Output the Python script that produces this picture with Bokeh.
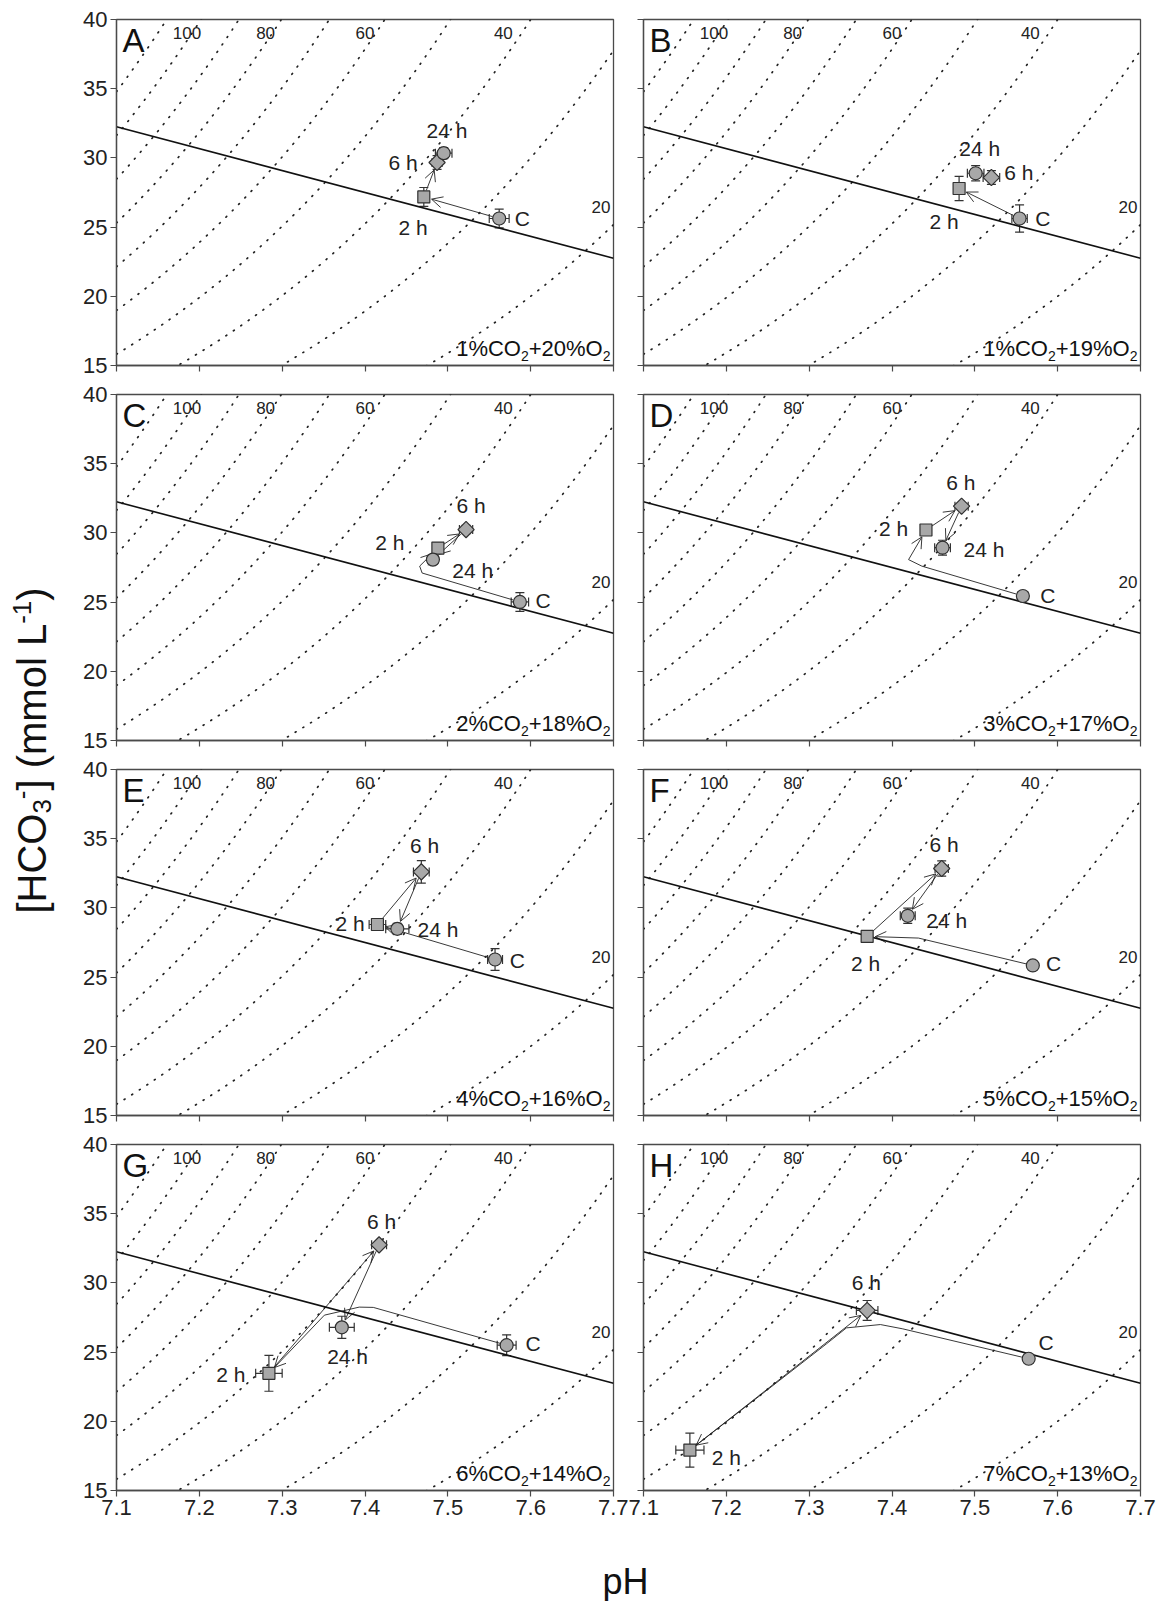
import numpy as np
from bokeh.plotting import figure
from bokeh.models import (ColumnDataSource, Whisker, Arrow, OpenHead, TeeHead, Label,
                          FixedTicker, Range1d, CustomJSTickFormatter)
from bokeh.layouts import row, column
from bokeh.embed import file_html
from bokeh.resources import INLINE
from bokeh.core.properties import value

FONT = "Liberation Sans"
INK = "#222222"
FRAME = "#4a4a4a"
FILL = "#a8a8a8"

# ---------------- data ----------------
x_ticks = [7.1, 7.2, 7.3, 7.4, 7.5, 7.6, 7.7]
y_ticks = [15, 20, 25, 30, 35, 40]

isopleth_pco2 = [20, 30, 40, 50, 60, 70, 80, 90, 100, 110]
isopleth_pk_apparent = 7.6
isopleth_label_text = ["100", "80", "60", "40", "20"]
isopleth_label_ph = [7.185, 7.280, 7.400, 7.567, 7.685]
isopleth_label_hco3 = [39.05, 39.05, 39.05, 39.05, 26.47]

buffer_line_ph = [7.1, 7.7]
buffer_line_hco3 = [32.25, 22.75]

x_title = "pH"
y_title = "[HCO₃⁻] (mmol L⁻¹)"

panel_letters = ["A", "B", "C", "D", "E", "F", "G", "H"]
panel_gas = ["1%CO₂+20%O₂", "1%CO₂+19%O₂", "2%CO₂+18%O₂", "3%CO₂+17%O₂",
             "4%CO₂+16%O₂", "5%CO₂+15%O₂", "6%CO₂+14%O₂", "7%CO₂+13%O₂"]

time_labels = ["C", "2 h", "6 h", "24 h"]
time_markers = ["circle", "square", "square", "circle"]
time_angles = [0.0, 0.0, np.pi / 4, 0.0]
time_sizes = [13, 12, 11.5, 13]

A_ph = [7.562, 7.471, 7.487, 7.495]
A_hco3 = [25.62, 27.18, 29.67, 30.34]
A_ph_err = [0.012, 0.004, 0.006, 0.010]
A_hco3_err = [0.68, 0.68, 0.50, 0.40]
A_lab_ph = [7.590, 7.458, 7.446, 7.499]
A_lab_hco3 = [25.62, 24.95, 29.69, 31.97]
A_routes = [(0, 1, [], []), (1, 2, [], []), (2, 3, [], [])]

B_ph = [7.554, 7.481, 7.520, 7.501]
B_hco3 = [25.62, 27.79, 28.58, 28.89]
B_ph_err = [0.0093, 0.004, 0.010, 0.010]
B_hco3_err = [0.99, 0.87, 0.50, 0.55]
B_lab_ph = [7.582, 7.463, 7.553, 7.506]
B_lab_hco3 = [25.60, 25.40, 28.94, 30.70]
B_routes = [(0, 1, [], [])]

C_ph = [7.587, 7.488, 7.522, 7.482]
C_hco3 = [25.01, 28.90, 30.24, 28.07]
C_ph_err = [0.0105, 0.005, 0.008, 0.006]
C_hco3_err = [0.68, 0.40, 0.30, 0.30]
C_lab_ph = [7.615, 7.430, 7.528, 7.530]
C_lab_hco3 = [25.10, 29.28, 31.96, 27.30]
C_routes = [(0, 1, [7.469, 7.466], [27.10, 27.60]), (1, 2, [], []), (2, 3, [], [])]

D_ph = [7.558, 7.441, 7.484, 7.461]
D_hco3 = [25.44, 30.21, 31.93, 28.93]
D_ph_err = [0.006, 0.004, 0.008, 0.0095]
D_hco3_err = [0.20, 0.20, 0.25, 0.54]
D_lab_ph = [7.588, 7.402, 7.483, 7.511]
D_lab_hco3 = [25.51, 30.29, 33.63, 28.78]
D_routes = [(0, 1, [7.436, 7.420], [27.60, 28.07]), (1, 2, [], []), (2, 3, [], [])]

E_ph = [7.557, 7.415, 7.468, 7.439]
E_hco3 = [26.27, 28.80, 32.60, 28.49]
E_ph_err = [0.009, 0.010, 0.0095, 0.014]
E_hco3_err = [0.79, 0.20, 0.81, 0.40]
E_lab_ph = [7.584, 7.382, 7.472, 7.488]
E_lab_hco3 = [26.20, 28.87, 34.50, 28.44]
E_routes = [(0, 1, [], []), (1, 2, [], []), (2, 3, [], [])]

F_ph = [7.570, 7.370, 7.460, 7.419]
F_hco3 = [25.84, 27.94, 32.85, 29.43]
F_ph_err = [0.005, 0.006, 0.008, 0.009]
F_hco3_err = [0.20, 0.40, 0.55, 0.55]
F_lab_ph = [7.595, 7.368, 7.463, 7.466]
F_lab_hco3 = [25.96, 25.96, 34.57, 29.07]
F_routes = [(0, 1, [7.432], [27.82]), (1, 2, [], []), (2, 3, [], [])]

G_ph = [7.571, 7.284, 7.417, 7.372]
G_hco3 = [25.50, 23.47, 32.75, 26.79]
G_ph_err = [0.0114, 0.016, 0.009, 0.015]
G_hco3_err = [0.75, 1.30, 0.20, 0.80]
G_lab_ph = [7.603, 7.238, 7.420, 7.379]
G_lab_hco3 = [25.60, 23.37, 34.45, 24.69]
G_routes = [(0, 1, [7.410, 7.393, 7.351], [28.23, 28.25, 27.67]), (1, 2, [], []), (2, 3, [], [])]

H_ph = [7.565, 7.156, 7.370]
H_hco3 = [24.52, 17.92, 28.01]
H_ph_err = [0.005, 0.017, 0.013]
H_hco3_err = [0.20, 1.23, 0.72]
H_lab_ph = [7.586, 7.200, 7.369]
H_lab_hco3 = [25.72, 17.37, 30.05]
H_routes = [(0, 1, [7.413, 7.386, 7.345, 7.321], [26.68, 26.99, 26.75, 25.60]), (1, 2, [], [])]

panels = [
    (A_ph, A_hco3, A_ph_err, A_hco3_err, A_lab_ph, A_lab_hco3, A_routes),
    (B_ph, B_hco3, B_ph_err, B_hco3_err, B_lab_ph, B_lab_hco3, B_routes),
    (C_ph, C_hco3, C_ph_err, C_hco3_err, C_lab_ph, C_lab_hco3, C_routes),
    (D_ph, D_hco3, D_ph_err, D_hco3_err, D_lab_ph, D_lab_hco3, D_routes),
    (E_ph, E_hco3, E_ph_err, E_hco3_err, E_lab_ph, E_lab_hco3, E_routes),
    (F_ph, F_hco3, F_ph_err, F_hco3_err, F_lab_ph, F_lab_hco3, F_routes),
    (G_ph, G_hco3, G_ph_err, G_hco3_err, G_lab_ph, G_lab_hco3, G_routes),
    (H_ph, H_hco3, H_ph_err, H_hco3_err, H_lab_ph, H_lab_hco3, H_routes),
]

# ---------------- geometry / helpers ----------------
FRAME_W = 497
FRAME_H = 346
PX_PH = FRAME_W / 0.6
PX_MM = FRAME_H / 25.0

CHAR_W = {"0": .556, "1": .556, "2": .556, "3": .556, "4": .556, "5": .556,
          "6": .556, "7": .556, "8": .556, "9": .556, "%": .889, "C": .722,
          "O": .778, "+": .584, "[": .278, "]": .278, "H": .722, " ": .278,
          "(": .333, ")": .333, "m": .833, "o": .556, "l": .222, "L": .556,
          "-": .333}
SUBS = {"₂": "2", "₃": "3"}
SUPS = {"⁻": "-", "¹": "1"}


def parse_rich(s):
    pieces = []
    for ch in s:
        if ch in SUBS:
            kind, c = -1, SUBS[ch]
        elif ch in SUPS:
            kind, c = 1, SUPS[ch]
        else:
            kind, c = 0, ch
        if pieces and pieces[-1][1] == kind:
            pieces[-1][0] += c
        else:
            pieces.append([c, kind])
    return pieces


def text_w(t, size):
    return sum(CHAR_W.get(c, 0.556) for c in t) * size


def add_gas_label(p, s):
    F, S = 22, 14
    pieces = parse_rich(s)
    widths = [text_w(t, F if k == 0 else S) for t, k in pieces]
    x_px = (FRAME_W - 3) - sum(widths)
    for (t, k), w in zip(pieces, widths):
        size = F if k == 0 else S
        y_px = (9 + 0.35 * F) if k == 0 else (4.5 + 0.35 * S)
        p.add_layout(Label(x=7.1 + x_px / PX_PH, y=15 + y_px / PX_MM, text=t,
                           text_font=FONT, text_font_size=f"{size}px",
                           text_color="#111111", text_align="left",
                           text_baseline="middle"))
        x_px += w


def toward(xa, ya, xb, yb, r):
    dx = (xa - xb) * PX_PH
    dy = (ya - yb) * PX_MM
    L = (dx * dx + dy * dy) ** 0.5
    if L < 1e-9:
        return xb, yb
    f = min(1.0, r / L)
    return xb + (xa - xb) * f, yb + (ya - yb) * f


def draw_route(p, ph, hc, s, e, vx, vy):
    xs = [ph[s]] + list(vx) + [ph[e]]
    ys = [hc[s]] + list(vy) + [hc[e]]
    r0, r1 = 7.0, 8.0
    if len(xs) == 2:
        L = (((xs[1] - xs[0]) * PX_PH) ** 2 + ((ys[1] - ys[0]) * PX_MM) ** 2) ** 0.5
        if L < r0 + r1 + 6:
            r0 = r1 = L * 0.28
    x0, y0 = toward(xs[1], ys[1], xs[0], ys[0], r0)
    x1, y1 = toward(xs[-2], ys[-2], xs[-1], ys[-1], r1)
    xs[0], ys[0] = x0, y0
    xs[-1], ys[-1] = x1, y1
    if len(xs) > 2:
        p.line(xs[:-1], ys[:-1], line_color=INK, line_width=0.9)
    p.add_layout(Arrow(x_start=xs[-2], y_start=ys[-2], x_end=xs[-1], y_end=ys[-1],
                       end=OpenHead(size=11, line_color=INK, line_width=0.9),
                       line_color=INK, line_width=0.9, level="underlay"))


ph_grid = np.linspace(7.1, 7.7, 241)

YLAB_W = 56


def make_panel(i):
    ph, hc, phe, hce, lph, lhc, routes = panels[i]
    left_col = (i % 2 == 0)
    top_row = (i < 2)
    bottom_row = (i >= 6)
    mbl = (116 - YLAB_W) if left_col else 15
    mbr = 15 if left_col else 22
    mbt = 19 if top_row else 17
    mbb = 40 if bottom_row else 12
    p = figure(width=mbl + FRAME_W + mbr, height=mbt + FRAME_H + mbb,
               x_range=Range1d(7.1, 7.7), y_range=Range1d(15, 40),
               output_backend="svg", toolbar_location=None,
               min_border_left=mbl, min_border_right=mbr,
               min_border_top=mbt, min_border_bottom=mbb)
    p.grid.grid_line_color = None
    p.outline_line_color = FRAME
    p.outline_line_width = 1.3
    p.background_fill_color = "white"
    p.border_fill_color = "white"

    for ax in (p.xaxis[0], p.yaxis[0]):
        ax.axis_line_color = FRAME
        ax.axis_line_width = 1.3
        ax.major_tick_line_color = FRAME
        ax.major_tick_line_width = 1.2
        ax.major_tick_out = 6
        ax.major_tick_in = 0
        ax.minor_tick_line_color = None
        ax.major_label_text_font = FONT
        ax.major_label_text_font_size = "22px"
        ax.major_label_text_color = INK
    p.xaxis.ticker = FixedTicker(ticks=x_ticks)
    p.yaxis.ticker = FixedTicker(ticks=y_ticks)
    p.xaxis.major_label_standoff = 3
    p.yaxis.major_label_standoff = 3
    if not bottom_row:
        p.xaxis.formatter = CustomJSTickFormatter(code="return ''")
        p.xaxis.major_label_standoff = 0
    if not left_col:
        p.yaxis.formatter = CustomJSTickFormatter(code="return ''")
        p.yaxis.major_label_standoff = 0

    # PCO2 isopleths
    xs = [ph_grid.tolist() for _ in isopleth_pco2]
    ys = [(P * 10 ** (ph_grid - isopleth_pk_apparent)).tolist() for P in isopleth_pco2]
    p.multi_line(xs, ys, line_color=INK, line_width=1.7, line_dash="1 8", line_cap="round")
    p.text(x=isopleth_label_ph, y=isopleth_label_hco3, text=isopleth_label_text,
           text_font=value(FONT), text_font_size="17px", text_color=INK,
           text_align="center", text_baseline="middle")

    # non-bicarbonate buffer line
    p.line(buffer_line_ph, buffer_line_hco3, line_color="#111111", line_width=1.6)

    # arrows
    for (s, e, vx, vy) in routes:
        draw_route(p, ph, hc, s, e, vx, vy)

    n = len(ph)
    vsrc = ColumnDataSource(dict(base=ph, upper=[h + d for h, d in zip(hc, hce)],
                                 lower=[h - d for h, d in zip(hc, hce)]))
    hsrc = ColumnDataSource(dict(base=hc, upper=[x + d for x, d in zip(ph, phe)],
                                 lower=[x - d for x, d in zip(ph, phe)]))
    for src, dim in ((vsrc, "height"), (hsrc, "width")):
        p.add_layout(Whisker(source=src, base="base", upper="upper", lower="lower",
                             dimension=dim, line_color="#333333", line_width=1.2,
                             upper_head=TeeHead(size=9, line_color="#333333", line_width=1.2),
                             lower_head=TeeHead(size=9, line_color="#333333", line_width=1.2),
                             level="underlay"))

    msrc = ColumnDataSource(dict(x=ph, y=hc, marker=time_markers[:n], size=time_sizes[:n],
                                 angle=time_angles[:n]))
    p.scatter(x="x", y="y", marker="marker", size="size", angle="angle", source=msrc,
              fill_color=FILL, line_color="#303030", line_width=1.2)

    p.text(x=lph, y=lhc, text=time_labels[:n], text_font=value(FONT),
           text_font_size="21px", text_color=INK, text_align="center",
           text_baseline="middle")

    LF = 33
    p.add_layout(Label(x=7.1 + 6.0 / PX_PH, y=40 - (8.5 + 0.366 * LF) / PX_MM,
                       text=panel_letters[i], text_font=FONT,
                       text_font_size=f"{LF}px", text_color="#111111",
                       text_baseline="middle", text_align="left"))
    add_gas_label(p, panel_gas[i])
    return p


figs = [make_panel(i) for i in range(8)]
grid = column(row(figs[0], figs[1]), row(figs[2], figs[3]),
              row(figs[4], figs[5]), row(figs[6], figs[7]))
grid_h = sum(f.height for f in figs[::2])

# y-axis title (rotated, with real sub/superscripts)
ylab = figure(width=YLAB_W, height=grid_h, x_range=Range1d(0, YLAB_W), y_range=Range1d(0, grid_h),
              output_backend="svg", toolbar_location=None, min_border=0,
              x_axis_type=None, y_axis_type=None)
ylab.grid.visible = False
ylab.outline_line_color = None
YF = 40
YS = 26
y_pieces = parse_rich(y_title)
y_widths = [text_w(t, YF if k == 0 else YS) for t, k in y_pieces]
cy = grid_h - 750.0
yy = cy - sum(y_widths) / 2.0
cx = 31.0
for (t, k), w in zip(y_pieces, y_widths):
    dx = 0.0 if k == 0 else (0.27 * YF if k < 0 else -0.24 * YF)
    ylab.add_layout(Label(x=cx + dx, y=yy, text=t, angle=np.pi / 2,
                          text_align="left", text_baseline="middle",
                          text_font=FONT, text_font_size=f"{YF if k == 0 else YS}px",
                          text_color="#111111"))
    yy += w

xlab_h = 1601 - grid_h
xlab = figure(width=1162, height=xlab_h, x_range=Range1d(0, 1162), y_range=Range1d(0, xlab_h),
              output_backend="svg", toolbar_location=None, min_border=0,
              x_axis_type=None, y_axis_type=None)
xlab.grid.visible = False
xlab.outline_line_color = None
xlab.add_layout(Label(x=625.0, y=xlab_h - (1581.0 - grid_h), text=x_title,
                      text_align="center", text_baseline="middle",
                      text_font=FONT, text_font_size="36px", text_color="#111111"))

page = column(row(ylab, grid), xlab)
open("out.html", "w").write(file_html(page, INLINE))
